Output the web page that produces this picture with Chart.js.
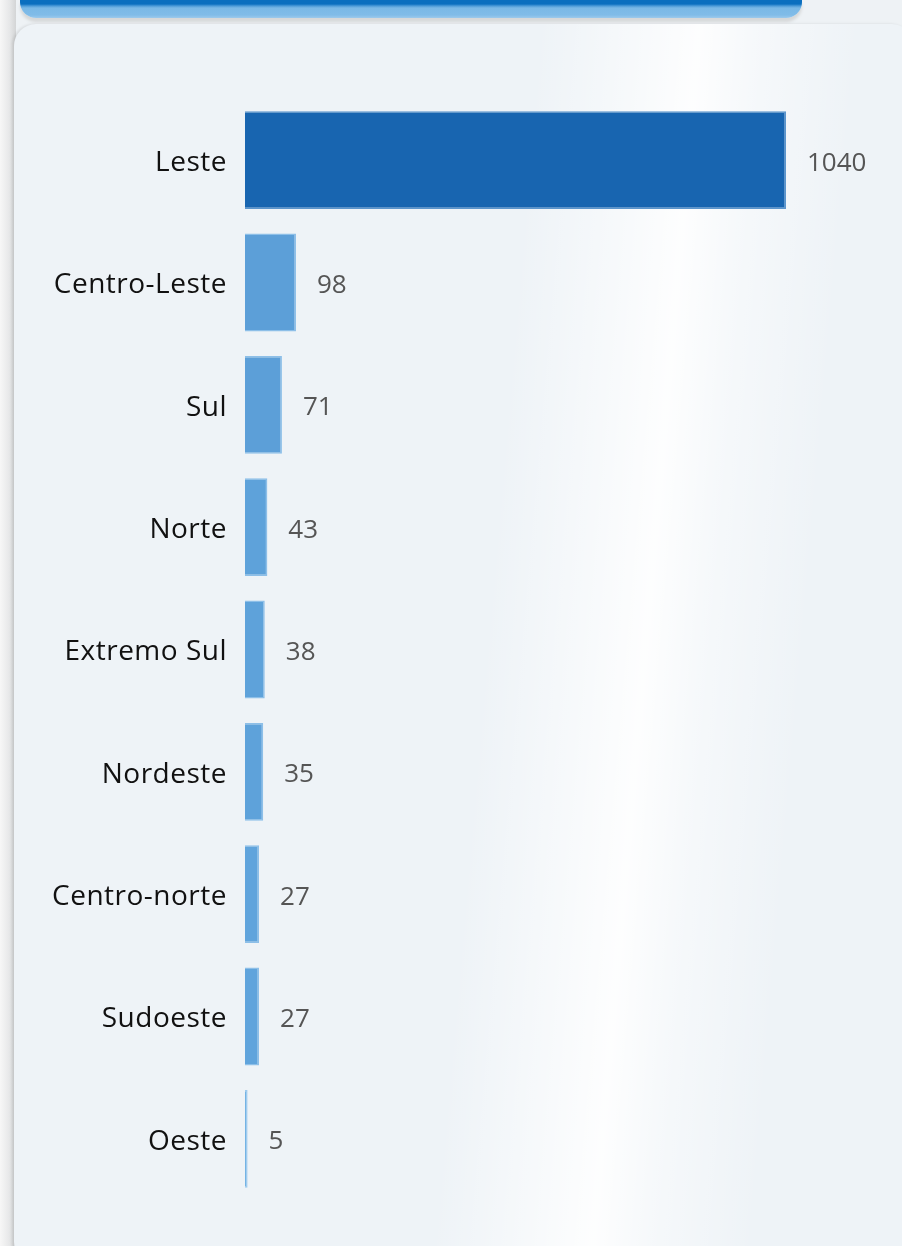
<!DOCTYPE html>
<html>
<head>
<meta charset="utf-8">
<script src="https://cdn.jsdelivr.net/npm/chart.js@4.4.1/dist/chart.umd.min.js"></script>
<style>
  html, body { margin:0; padding:0; width:902px; height:1246px; overflow:hidden; background:#eef2f5; }
  #leftshade { position:absolute; left:0; top:0; width:16px; height:1246px;
    background:linear-gradient(90deg,#f7f7f7 0%,#e6e7e8 60%,#d3d5d6 100%); }
  #header { position:absolute; left:20px; top:0; width:782px; height:18px;
    border-radius:0 0 16px 16px;
    background:linear-gradient(180deg,#0b6fbf 0px,#0b6fbf 4px,#4d9bd8 6px,#7ab8e6 8px,#80bce8 15px,#9cc9ec 18px);
    box-shadow:0 4px 3px #d6d8d9; }
  #panel { position:absolute; left:14px; top:24px; width:900px; height:1240px; border-radius:22px;
    background:
      linear-gradient(95deg, rgba(255,255,255,0) 52%, rgba(255,255,255,0.55) 62%, rgba(255,255,255,0.9) 68%, rgba(255,255,255,0.45) 74%, rgba(255,255,255,0) 84%),
      #eef3f7;
    box-shadow:-2px 0 3px rgba(0,0,0,0.10); }
  #wrap { position:absolute; left:0; top:0; width:902px; height:1246px; }
</style>
</head>
<body>
<div id="leftshade"></div>
<div id="header"></div>
<div id="panel"></div>
<div id="wrap"><canvas id="c"></canvas></div>
<script>
const categories = ["Leste","Centro-Leste","Sul","Norte","Extremo Sul","Nordeste","Centro-norte","Sudoeste","Oeste"];
const values = [1040, 98, 71, 43, 38, 35, 27, 27, 5];
const barColors = ["#1865b0","#5c9fd8","#5c9fd8","#5ea2da","#5ea2da","#5ea2da","#60a4dc","#60a4dc","#74b3e4"];
const borderColors = ["#5b95cc","#8dbfe8","#8dbfe8","#8dbfe8","#8dbfe8","#8dbfe8","#8dbfe8","#8dbfe8","#9ccaee"];

const spacing = {
  id: 'spacing',
  beforeDraw(chart) { chart.ctx.letterSpacing = '0.5px'; }
};

const valueLabels = {
  id: 'valueLabels',
  afterDatasetsDraw(chart) {
    const ctx = chart.ctx;
    const meta = chart.getDatasetMeta(0);
    ctx.save();
    ctx.letterSpacing = '0px';
    ctx.font = '26px "Open Sans", "DejaVu Sans", sans-serif';
    ctx.fillStyle = '#555555';
    ctx.textAlign = 'left';
    ctx.textBaseline = 'middle';
    meta.data.forEach((bar, i) => {
      ctx.fillText(String(values[i]), bar.x + 21, bar.y + 3);
    });
    ctx.restore();
  }
};

new Chart(document.getElementById('c'), {
  type: 'bar',
  data: {
    labels: categories,
    datasets: [{
      data: values,
      backgroundColor: barColors,
      borderColor: borderColors,
      borderWidth: 1.5,
      barPercentage: 0.8,
      categoryPercentage: 1.0
    }]
  },
  options: {
    indexAxis: 'y',
    responsive: true,
    maintainAspectRatio: false,
    animation: false,
    devicePixelRatio: 1,
    layout: { padding: { left: 0, right: 116, top: 99, bottom: 46 } },
    plugins: { legend: { display: false }, tooltip: { enabled: false } },
    scales: {
      x: { display: false, min: 0, max: 1040 },
      y: {
        grid: { display: false, drawTicks: false },
        border: { display: false },
        ticks: {
          padding: 18,
          labelOffset: 3,
          color: '#111',
          font: { family: '"Open Sans", "DejaVu Sans", sans-serif', size: 28 }
        },
        afterFit(scale) { scale.width = 245; }
      }
    }
  },
  plugins: [spacing, valueLabels]
});
</script>
</body>
</html>
